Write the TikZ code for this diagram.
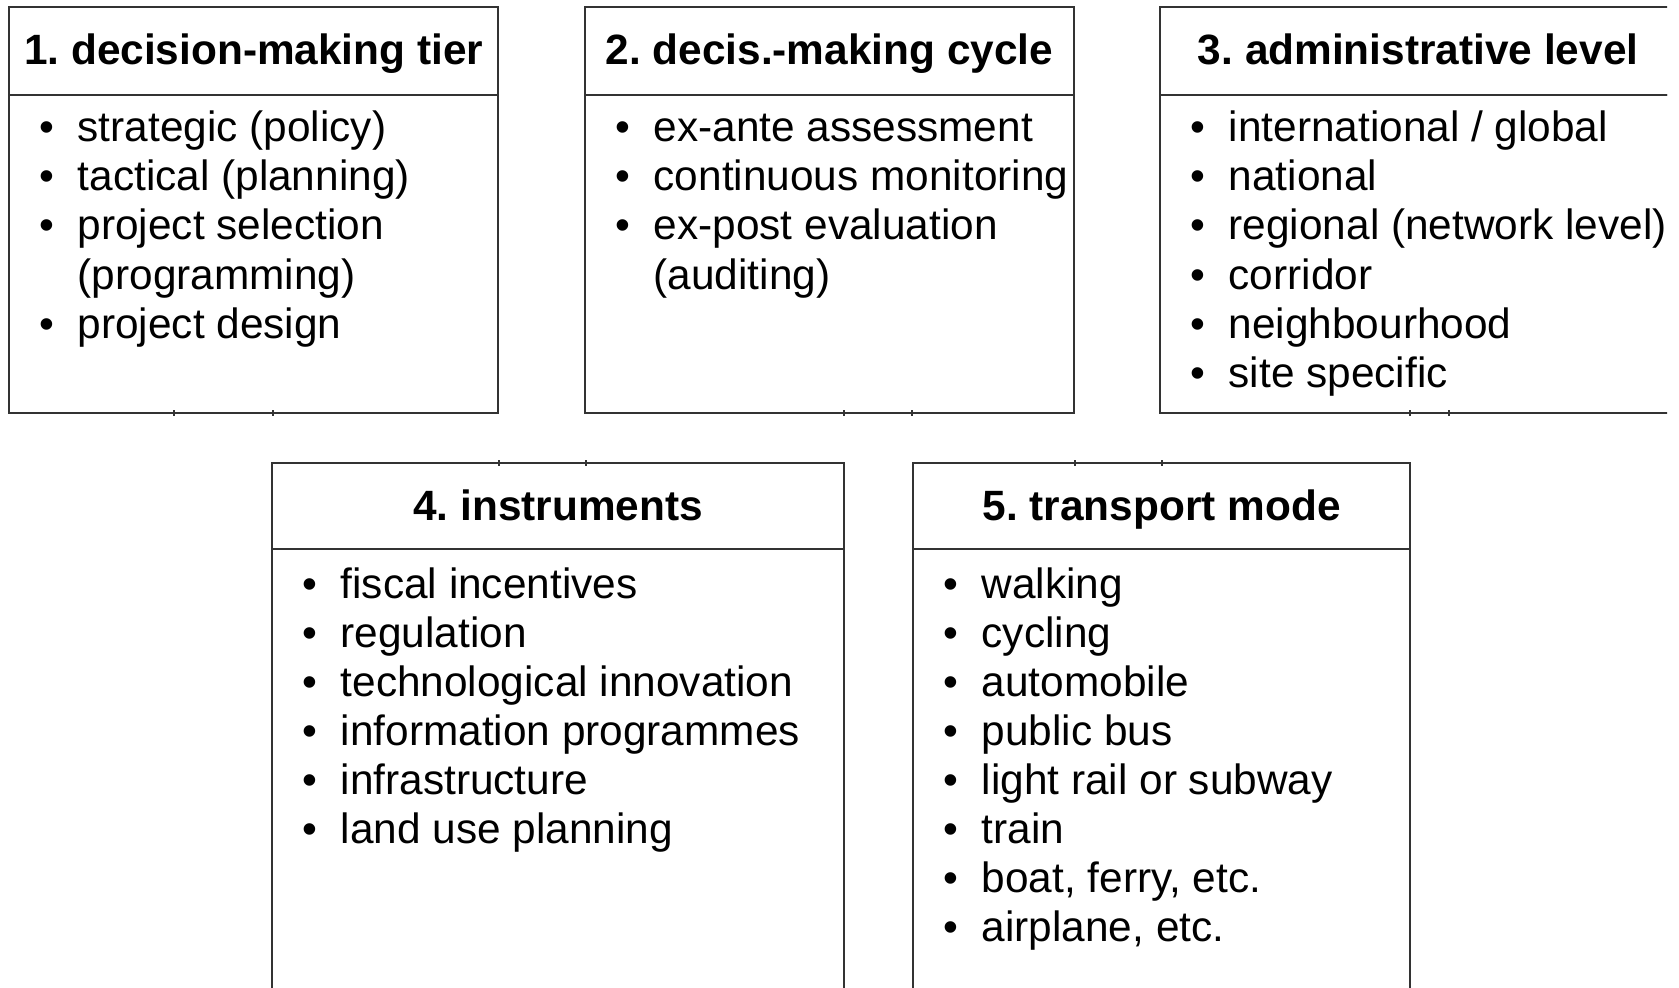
\documentclass[tikz,border=0pt]{standalone}
\usepackage{fontspec}
\setmainfont{Liberation Sans}
\usetikzlibrary{positioning}
\frenchspacing

\begin{document}
\begin{tikzpicture}[x = 0.01cm, y = -0.01cm,
	font=\fontsize{12.05pt}{14pt}\selectfont,
	rule/.style={draw=black!80, line width=0.6pt},
	frame/.style={rule, inner sep=0pt, outer sep=0pt},
	headbox/.style={frame, anchor=north west, font=\fontsize{12.05pt}{14pt}\selectfont\bfseries,
		text height=0.3cm, text depth=0.02cm},
	bodybox/.style={frame, below=0pt of #1},
	itemtext/.style={inner sep=0pt, anchor=base west},
	itemdot/.style={inner sep=0pt, anchor=base}
]
\useasboundingbox (0,0) rectangle (1679,987);
\clip (0,0) rectangle (1667,987);

% top row
\node[headbox, minimum width=4.89cm, minimum height=0.88cm] (h1) at (9,6.7) {1. decision-making tier};
\node[bodybox=h1, minimum width=4.89cm, minimum height=3.183cm] (b1) {};
\node[headbox, minimum width=4.885cm, minimum height=0.88cm] (h2) at (585,6.7) {2. decis.-making cycle};
\node[bodybox=h2, minimum width=4.885cm, minimum height=3.183cm] (b2) {};
\node[headbox, minimum width=5.16cm, minimum height=0.88cm] (h3) at (1160,6.7) {3. administrative level};
\node[bodybox=h3, minimum width=5.16cm, minimum height=3.183cm] (b3) {};

% bottom row
\node[headbox, minimum width=5.72cm, minimum height=0.86cm] (h4) at (272,463) {4. instruments};
\node[bodybox=h4, minimum width=5.72cm, minimum height=4.6cm] (b4) {};
\node[headbox, minimum width=4.97cm, minimum height=0.86cm] (h5) at (913,463) {5. transport mode};
\node[bodybox=h5, minimum width=4.97cm, minimum height=4.6cm] (b5) {};

\foreach \b/\txt [count=\k] in {1/strategic (policy), 1/tactical (planning), 1/project selection, 0/(programming), 1/project design} {
	\node[itemtext] (t1-\k) at ([xshift=0.68cm, yshift={-0.465cm-(\k-1)*0.493cm}]b1.north west) {\txt};
	\ifnum\b=1 \node[itemdot] (d1-\k) at ([xshift=-0.30cm]t1-\k.base west) {\textbullet}; \fi
}
\foreach \b/\txt [count=\k] in {1/ex-ante assessment, 1/continuous monitoring, 1/ex-post evaluation, 0/(auditing)} {
	\node[itemtext] (t2-\k) at ([xshift=0.68cm, yshift={-0.465cm-(\k-1)*0.493cm}]b2.north west) {\txt};
	\ifnum\b=1 \node[itemdot] (d2-\k) at ([xshift=-0.30cm]t2-\k.base west) {\textbullet}; \fi
}
\foreach \txt [count=\k] in {international / global, national, regional (network level), corridor, neighbourhood, site specific} {
	\node[itemtext] (t3-\k) at ([xshift=0.68cm, yshift={-0.465cm-(\k-1)*0.493cm}]b3.north west) {\txt};
	\node[itemdot] (d3-\k) at ([xshift=-0.30cm]t3-\k.base west) {\textbullet};
}
\foreach \txt [count=\k] in {fiscal incentives, regulation, technological innovation, information programmes, infrastructure, land use planning} {
	\node[itemtext] (t4-\k) at ([xshift=0.68cm, yshift={-0.49cm-(\k-1)*0.49cm}]b4.north west) {\txt};
	\node[itemdot] (d4-\k) at ([xshift=-0.30cm]t4-\k.base west) {\textbullet};
}
\foreach \txt [count=\k] in {walking, cycling, automobile, public bus, light rail or subway, train, {boat, ferry, etc.}, {airplane, etc.}} {
	\node[itemtext] (t5-\k) at ([xshift=0.68cm, yshift={-0.49cm-(\k-1)*0.49cm}]b5.north west) {\txt};
	\node[itemdot] (d5-\k) at ([xshift=-0.30cm]t5-\k.base west) {\textbullet};
}

% small grid ticks on the frames
\foreach \tx in {174, 273, 844, 912, 1410, 1449} \draw[rule] (\tx,410) -- (\tx,416);
\foreach \tx in {499, 586, 1075, 1162} \draw[rule] (\tx,460) -- (\tx,466);
\end{tikzpicture}
\end{document}
